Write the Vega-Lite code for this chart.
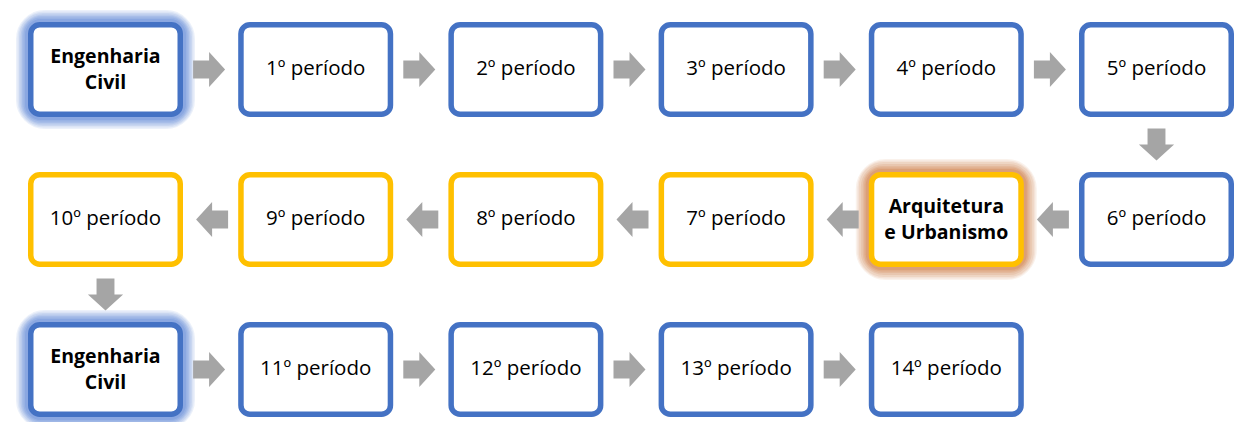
{
  "$schema": "https://vega.github.io/schema/vega-lite/v6.json",
  "width": 1239,
  "height": 422,
  "padding": 0,
  "autosize": {"type": "none"},
  "background": "white",
  "config": {"view": {"stroke": null}},
  "datasets": {
    "boxes": [
      {"label": "Engenharia\nCivil", "col": 0, "row": 0, "curso": "Engenharia Civil", "tipo": "curso"},
      {"label": "1º período", "col": 1, "row": 0, "curso": "Engenharia Civil", "tipo": "periodo"},
      {"label": "2º período", "col": 2, "row": 0, "curso": "Engenharia Civil", "tipo": "periodo"},
      {"label": "3º período", "col": 3, "row": 0, "curso": "Engenharia Civil", "tipo": "periodo"},
      {"label": "4º período", "col": 4, "row": 0, "curso": "Engenharia Civil", "tipo": "periodo"},
      {"label": "5º período", "col": 5, "row": 0, "curso": "Engenharia Civil", "tipo": "periodo"},
      {"label": "6º período", "col": 5, "row": 1, "curso": "Engenharia Civil", "tipo": "periodo"},
      {"label": "Arquitetura\ne Urbanismo", "col": 4, "row": 1, "curso": "Arquitetura e Urbanismo", "tipo": "curso"},
      {"label": "7º período", "col": 3, "row": 1, "curso": "Arquitetura e Urbanismo", "tipo": "periodo"},
      {"label": "8º período", "col": 2, "row": 1, "curso": "Arquitetura e Urbanismo", "tipo": "periodo"},
      {"label": "9º período", "col": 1, "row": 1, "curso": "Arquitetura e Urbanismo", "tipo": "periodo"},
      {"label": "10º período", "col": 0, "row": 1, "curso": "Arquitetura e Urbanismo", "tipo": "periodo"},
      {"label": "Engenharia\nCivil", "col": 0, "row": 2, "curso": "Engenharia Civil", "tipo": "curso"},
      {"label": "11º período", "col": 1, "row": 2, "curso": "Engenharia Civil", "tipo": "periodo"},
      {"label": "12º período", "col": 2, "row": 2, "curso": "Engenharia Civil", "tipo": "periodo"},
      {"label": "13º período", "col": 3, "row": 2, "curso": "Engenharia Civil", "tipo": "periodo"},
      {"label": "14º período", "col": 4, "row": 2, "curso": "Engenharia Civil", "tipo": "periodo"}
    ],
    "arrows": [
      {"ax": 0.5, "ay": 0, "dir": "right"},
      {"ax": 1.5, "ay": 0, "dir": "right"},
      {"ax": 2.5, "ay": 0, "dir": "right"},
      {"ax": 3.5, "ay": 0, "dir": "right"},
      {"ax": 4.5, "ay": 0, "dir": "right"},
      {"ax": 5, "ay": 0.5, "dir": "down"},
      {"ax": 4.5, "ay": 1, "dir": "left"},
      {"ax": 3.5, "ay": 1, "dir": "left"},
      {"ax": 2.5, "ay": 1, "dir": "left"},
      {"ax": 1.5, "ay": 1, "dir": "left"},
      {"ax": 0.5, "ay": 1, "dir": "left"},
      {"ax": 0, "ay": 1.5, "dir": "down"},
      {"ax": 0.5, "ay": 2, "dir": "right"},
      {"ax": 1.5, "ay": 2, "dir": "right"},
      {"ax": 2.5, "ay": 2, "dir": "right"},
      {"ax": 3.5, "ay": 2, "dir": "right"}
    ]
  },
  "encoding": {
    "x": {"field": "col", "type": "quantitative", "scale": {"domain": [-0.5019, 5.3925], "nice": false, "zero": false}, "axis": null},
    "y": {"field": "row", "type": "quantitative", "scale": {"domain": [-0.4633, 2.35], "reverse": true, "nice": false, "zero": false}, "axis": null}
  },
  "layer": [
    {
      "data": {"name": "boxes"},
      "transform": [{"filter": "datum.curso === 'Engenharia Civil' && datum.tipo === 'curso'"}],
      "layer": [
        {"mark": {"type": "rect", "width": 149, "height": 89, "cornerRadius": 14, "fillOpacity": 0, "stroke": "#5F88D8", "strokeWidth": 30, "strokeOpacity": 0.12, "strokeJoin": "round"}},
        {"mark": {"type": "rect", "width": 149, "height": 89, "cornerRadius": 13, "fillOpacity": 0, "stroke": "#5F88D8", "strokeWidth": 27, "strokeOpacity": 0.12, "strokeJoin": "round"}},
        {"mark": {"type": "rect", "width": 149, "height": 89, "cornerRadius": 12, "fillOpacity": 0, "stroke": "#5F88D8", "strokeWidth": 24, "strokeOpacity": 0.14, "strokeJoin": "round"}},
        {"mark": {"type": "rect", "width": 149, "height": 89, "cornerRadius": 12, "fillOpacity": 0, "stroke": "#5F88D8", "strokeWidth": 21, "strokeOpacity": 0.16, "strokeJoin": "round"}},
        {"mark": {"type": "rect", "width": 149, "height": 89, "cornerRadius": 11, "fillOpacity": 0, "stroke": "#5F88D8", "strokeWidth": 18, "strokeOpacity": 0.18, "strokeJoin": "round"}},
        {"mark": {"type": "rect", "width": 149, "height": 89, "cornerRadius": 10, "fillOpacity": 0, "stroke": "#5F88D8", "strokeWidth": 15, "strokeOpacity": 0.2, "strokeJoin": "round"}},
        {"mark": {"type": "rect", "width": 149, "height": 89, "cornerRadius": 10, "fillOpacity": 0, "stroke": "#5F88D8", "strokeWidth": 12, "strokeOpacity": 0.25, "strokeJoin": "round"}}
      ]
    },
    {
      "data": {"name": "boxes"},
      "transform": [{"filter": "datum.curso === 'Arquitetura e Urbanismo' && datum.tipo === 'curso'"}],
      "layer": [
        {"mark": {"type": "rect", "width": 149, "height": 89, "cornerRadius": 14, "fillOpacity": 0, "stroke": "#D07E48", "strokeWidth": 32, "strokeOpacity": 0.1, "strokeJoin": "round"}},
        {"mark": {"type": "rect", "width": 149, "height": 89, "cornerRadius": 13, "fillOpacity": 0, "stroke": "#D07E48", "strokeWidth": 29, "strokeOpacity": 0.12, "strokeJoin": "round"}},
        {"mark": {"type": "rect", "width": 149, "height": 89, "cornerRadius": 12, "fillOpacity": 0, "stroke": "#D07E48", "strokeWidth": 26, "strokeOpacity": 0.14, "strokeJoin": "round"}},
        {"mark": {"type": "rect", "width": 149, "height": 89, "cornerRadius": 12, "fillOpacity": 0, "stroke": "#D07E48", "strokeWidth": 22, "strokeOpacity": 0.16, "strokeJoin": "round"}},
        {"mark": {"type": "rect", "width": 149, "height": 89, "cornerRadius": 11, "fillOpacity": 0, "stroke": "#D07E48", "strokeWidth": 18, "strokeOpacity": 0.18, "strokeJoin": "round"}},
        {"mark": {"type": "rect", "width": 149, "height": 89, "cornerRadius": 10, "fillOpacity": 0, "stroke": "#D07E48", "strokeWidth": 15, "strokeOpacity": 0.22, "strokeJoin": "round"}},
        {"mark": {"type": "rect", "width": 149, "height": 89, "cornerRadius": 10, "fillOpacity": 0, "stroke": "#D07E48", "strokeWidth": 12, "strokeOpacity": 0.28, "strokeJoin": "round"}}
      ]
    },
    {
      "data": {"name": "boxes"},
      "mark": {"type": "rect", "width": 149.5, "height": 89.5, "cornerRadius": 9, "fill": "white", "strokeWidth": 5.5},
      "encoding": {
        "stroke": {"field": "curso", "type": "nominal", "scale": {"domain": ["Engenharia Civil", "Arquitetura e Urbanismo"], "range": ["#4472C4", "#FFC000"]}, "legend": null}
      }
    },
    {
      "data": {"name": "boxes"},
      "transform": [{"filter": "datum.tipo === 'periodo'"}],
      "mark": {"type": "text", "font": "Open Sans", "fontSize": 20.5, "color": "black", "baseline": "middle", "align": "center", "dy": 0},
      "encoding": {
        "text": {"field": "label"}
      }
    },
    {
      "data": {"name": "boxes"},
      "transform": [{"filter": "datum.tipo === 'curso'"}],
      "mark": {"type": "text", "font": "Open Sans", "fontSize": 19.5, "fontWeight": "bold", "color": "black", "baseline": "middle", "align": "center", "lineBreak": "\n", "lineHeight": 26, "dy": -12.5},
      "encoding": {
        "text": {"field": "label"}
      }
    },
    {
      "data": {"name": "arrows"},
      "encoding": {
        "x": {"field": "ax", "type": "quantitative", "scale": {"domain": [-0.5019, 5.3925], "nice": false, "zero": false}, "axis": null},
        "y": {"field": "ay", "type": "quantitative", "scale": {"domain": [-0.4633, 2.35], "reverse": true, "nice": false, "zero": false}, "axis": null}
      },
      "layer": [
        {"transform": [{"filter": "datum.dir === 'right'"}], "mark": {"type": "point", "shape": "M-1,-0.56 L0,-0.56 L0,-1.1 L1,0 L0,1.1 L0,0.56 L-1,0.56 Z", "size": 1024, "filled": true, "color": "#A5A5A5", "opacity": 1, "strokeWidth": 0, "xOffset": -1.5}},
        {"transform": [{"filter": "datum.dir === 'left'"}], "mark": {"type": "point", "shape": "M-1,-0.56 L0,-0.56 L0,-1.1 L1,0 L0,1.1 L0,0.56 L-1,0.56 Z", "size": 1024, "filled": true, "color": "#A5A5A5", "opacity": 1, "strokeWidth": 0, "angle": 180, "xOffset": 1.5}},
        {"transform": [{"filter": "datum.dir === 'down'"}], "mark": {"type": "point", "shape": "M-1,-0.56 L0,-0.56 L0,-1.1 L1,0 L0,1.1 L0,0.56 L-1,0.56 Z", "size": 1024, "filled": true, "color": "#A5A5A5", "opacity": 1, "strokeWidth": 0, "angle": 90}}
      ]
    }
  ]
}
